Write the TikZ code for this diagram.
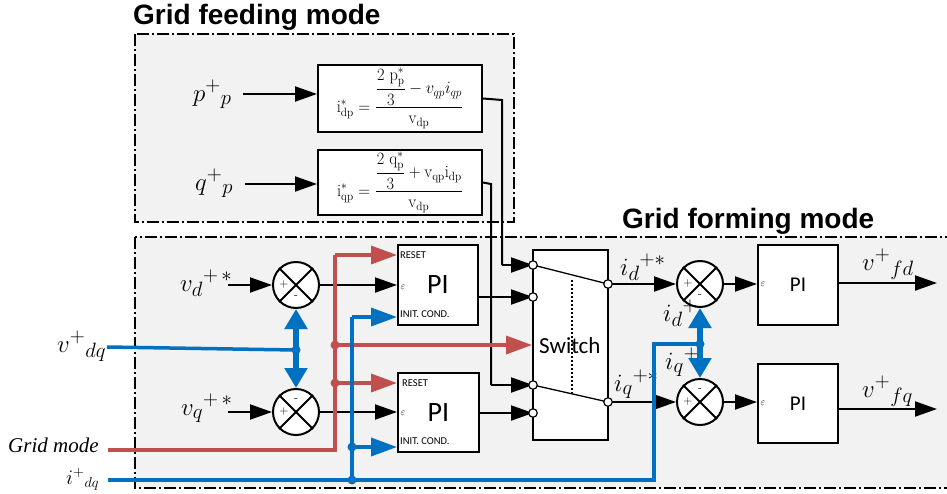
\documentclass[tikz,border=0pt]{standalone}
\usepackage{amsmath}
\usepackage{graphicx}
\usepackage{fontspec}
\usetikzlibrary{arrows.meta,calc}
\newfontfamily\titlefont{Liberation Sans}
\newfontfamily\cfont{Carlito}
\newfontfamily\serifit{Liberation Serif}
\definecolor{bgray}{HTML}{F2F2F2}
\definecolor{myred}{HTML}{C0504D}
\definecolor{myblue}{HTML}{0070C0}
\begin{document}
\begin{tikzpicture}[x=1pt,y=-1pt,
  wire/.style={line width=2pt, black},
  arr/.style={wire, -{Triangle[length=22pt,width=15pt]}},
  redw/.style={line width=3.5pt, myred},
  redarr/.style={redw, -{Triangle[length=26pt,width=18pt]}},
  bluew/.style={line width=3.5pt, myblue},
  bluearr/.style={bluew, -{Triangle[length=26pt,width=18pt]}},
  bigblue/.style={line width=6pt, myblue, {Triangle[length=20pt,width=22pt]}-{Triangle[length=20pt,width=22pt]}},
  region/.style={draw, line width=2pt, fill=bgray, dash pattern=on 12pt off 3pt on 2pt off 3pt},
  blockbox/.style={draw, line width=2pt, fill=white, inner sep=0pt},
  sumnode/.style={circle, draw, line width=2pt, fill=white, minimum size=46pt, inner sep=0pt},
  lbl/.style={inner sep=0pt, anchor=base west, font=\fontsize{24.88}{30}\selectfont},
  slbl/.style={inner sep=0pt, anchor=base west, font=\fontsize{20.74}{26}\selectfont},
  titlef/.style={inner sep=0pt, anchor=base west, font=\titlefont\bfseries\fontsize{28}{32}\selectfont},
  smallc/.style={inner sep=0pt, font=\cfont\fontsize{10.5}{12}\selectfont},
  epsl/.style={inner sep=0pt, font=\fontsize{10}{11}\selectfont},
  sgn/.style={inner sep=0pt, font=\fontsize{12}{14}\selectfont},
  dot/.style={circle, fill, inner sep=0pt, minimum size=9pt},
  swc/.style={circle, draw, line width=1.2pt, fill=white, inner sep=0pt, minimum size=8.5pt},
  thin/.style={line width=1.3pt},
  formula/.style={blockbox, minimum width=164pt, font=\fontsize{17.28}{20}\selectfont}
]
\useasboundingbox (0,0) rectangle (947,493);
% regions
\draw[region] (135,34) rectangle (514,222);
\draw[region] (135,237) rectangle (955,488);
\node[titlef] (t1) at (133,24) {Grid feeding mode};
\node[titlef] (t2) at (622,228) {Grid forming mode};

% formula blocks
\node[formula, minimum height=67pt] (fb1) at (400,98.5)
  {\scalebox{0.95}[1]{$\mathrm{i}^{*}_{\mathrm{dp}}=\dfrac{\dfrac{2\ \mathrm{p}^{*}_{\mathrm{p}}}{3}-v_{qp}i_{qp}}{\mathrm{v}_{\mathrm{dp}}}$}};
\node[formula, minimum height=65pt] (fb2) at (400,182.5)
  {\scalebox{0.95}[1]{$\mathrm{i}^{*}_{\mathrm{qp}}=\dfrac{\dfrac{2\ \mathrm{q}^{*}_{\mathrm{p}}}{3}+\mathrm{v}_{\mathrm{qp}}\mathrm{i}_{\mathrm{dp}}}{\mathrm{v}_{\mathrm{dp}}}$}};

% PI blocks
\node[blockbox, minimum width=80pt, minimum height=80pt, font=\cfont\fontsize{28}{30}\selectfont] (pi1) at (438,285) {PI};
\node[blockbox, minimum width=81pt, minimum height=79pt, font=\cfont\fontsize{28}{30}\selectfont] (pi2) at (438.5,412.5) {PI};
\node[blockbox, minimum width=80pt, minimum height=80pt, font=\cfont\fontsize{21}{24}\selectfont] (pi3) at (798,285) {PI};
\node[blockbox, minimum width=80pt, minimum height=79pt, font=\cfont\fontsize{21}{24}\selectfont] (pi4) at (798,403.5) {PI};
\node[smallc, anchor=north west] (rs1) at ($(pi1.north west)+(3,7)$) {RESET};
\node[smallc, anchor=north west] (rs2) at ($(pi2.north west)+(5,7)$) {RESET};
\node[smallc, anchor=south west] (ic1) at ($(pi1.south west)+(3,-8)$) {INIT. COND.};
\node[smallc, anchor=south west] (ic2) at ($(pi2.south west)+(3,-8)$) {INIT. COND.};
\node[epsl] (e1) at ($(pi1.west)+(6,2)$) {$\varepsilon$};
\node[epsl] (e2) at ($(pi2.west)+(6,1)$) {$\varepsilon$};
\node[epsl] (e3) at ($(pi3.west)+(6,-1)$) {$\varepsilon$};
\node[epsl] (e4) at ($(pi4.west)+(6,0)$) {$\varepsilon$};

% switch
\node[blockbox, minimum width=75pt, minimum height=190pt] (sw) at (570.5,345) {};
\draw[thin, dash pattern=on 2pt off 2pt] (572,280) -- (572,395);
\node[inner sep=0pt, anchor=west, font=\cfont\fontsize{23}{26}\selectfont] (swt) at (539,346) {Switch};
\coordinate (si1) at (533,265);
\coordinate (si2) at (533,297);
\coordinate (si3) at (533,385);
\coordinate (si4) at (533,413);
\coordinate (so1) at (608,284);
\coordinate (so2) at (608,402);
\draw[thin] (si1) -- (so1);
\draw[thin] (si3) -- (so2);

% summing junctions
\foreach \n/\x/\y in {sum1/296/285, sum2/296/412, sum3/700/284, sum4/700/402} {
  \node[sumnode] (\n) at (\x,\y) {};
  \draw[line width=2pt] (\n.45) -- (\n.225) (\n.135) -- (\n.315);
  \node[sgn] at ($(\n.center)+(-12,-1)$) {$+$};
}
\node[sgn] (m1) at ($(sum1.center)+(0,12)$) {-};
\node[sgn] (m2) at ($(sum2.center)+(0,-12)$) {-};
\node[sgn] (m3) at ($(sum3.center)+(0,12)$) {-};
\node[sgn] (m4) at ($(sum4.center)+(0,-12)$) {-};

% labels
\node[lbl] (lp) at (193,101) {$p^{+}{}_{p}$};
\node[lbl] (lq) at (195,190) {$q^{+}{}_{p}$};
\node[lbl] (lvd) at (180,291) {$v_{d}{}^{+\,*}$};
\node[lbl] (lvq) at (181,415) {$v_{q}{}^{+\,*}$};
\node[lbl] (lvdq) at (57,352) {$v^{+}{}_{dq}$};
\node[inner sep=0pt, anchor=base west, font=\serifit\itshape\fontsize{21}{24}\selectfont] (lgm) at (8,452) {Grid mode};
\node[slbl] (lidq) at (66,484) {$i^{+}{}_{dq}$};
\node[lbl] (lid) at (620,275) {$i_{d}{}^{+*}$};
\node[lbl] (liq) at (614,391) {$i_{q}{}^{+*}$};
\node[lbl] (lidm) at (663,321) {$i_{d}{}^{+}$};
\node[lbl] (liqm) at (665,369) {$i_{q}{}^{+}$};
\node[lbl] (lvfd) at (862,270) {$v^{+}{}_{fd}$};
\node[lbl] (lvfq) at (862,397) {$v^{+}{}_{fq}$};

% input coordinates
\coordinate (pin) at (243,94);
\coordinate (qin) at (245,184);
\coordinate (vdin) at (228,285);
\coordinate (vqin) at (228,412);
\coordinate (vdqin) at (107,347);
\coordinate (gmin) at (108,450);
\coordinate (idqin) at (108,480);
\coordinate (vfdout) at (937,283);
\coordinate (vfqout) at (937,409);

% black connectors
\draw[arr] (pin) -- (pin -| fb1.west);
\draw[arr] (qin) -- (qin -| fb2.west);
\draw[arr] (vdin) -- (sum1.west);
\draw[arr] (vqin) -- (sum2.west);
\draw[arr] (sum1.east) -- (sum1.east -| pi1.west);
\draw[arr] (sum2.east) -- (sum2.east -| pi2.west);
\draw[wire] (fb1.east) -- (502,100) -- (502,265);
\draw[arr] (502,265) -- (si1);
\draw[wire] (fb2.east) -- (491,184) -- (491,385);
\draw[arr] (491,385) -- (si3);
\draw[arr] (si2 -| pi1.east) -- (si2);
\draw[arr] (si4 -| pi2.east) -- (si4);
\draw[arr] (so1) -- (sum3.west);
\draw[arr] (so2) -- (sum4.west);
\draw[arr] (sum3.east) -- (sum3.east -| pi3.west);
\draw[arr] (sum4.east) -- (sum4.east -| pi4.west);
\draw[arr] (vfdout -| pi3.east) -- (vfdout);
\draw[arr] (vfqout -| pi4.east) -- (vfqout);

% switch contacts
\foreach \c in {si1,si2,si3,si4,so1,so2} { \node[swc] at (\c) {}; }

% red connectors
\coordinate (rd1) at (335,345);
\coordinate (rd2) at (335,383);
\draw[redw] (gmin) -- (335,450) -- (335,255);
\draw[redarr] (335,255) -- (pi1.west |- 0,255);
\draw[redarr] (rd2) -- (rd2 -| pi2.west);
\draw[redarr] (rd1) -- (rd1 -| sw.west);
\node[dot, myred] at (rd1) {};
\node[dot, myred] at (rd2) {};

% blue connectors
\coordinate (bd1) at (296,350);
\coordinate (bd2) at (352,480);
\coordinate (bd3) at (352,447);
\coordinate (bd4) at (700,344);
\draw[bluew] (vdqin) -- (bd1);
\draw[bigblue] (sum1.south) -- (sum2.north);
\draw[bluew] (idqin) -- (654,480) -- (654,344) -- (bd4);
\draw[bluew] (bd2) -- (352,317);
\draw[bluearr] (352,317) -- (pi1.west |- 0,317);
\draw[bluearr] (bd3) -- (bd3 -| pi2.west);
\draw[bigblue] (sum3.south) -- (sum4.north);
\foreach \c in {bd1,bd2,bd3,bd4} { \node[dot, myblue] at (\c) {}; }
\end{tikzpicture}
\end{document}
